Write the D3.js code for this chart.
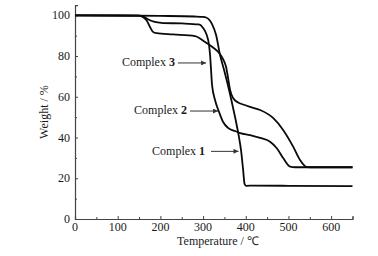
<!DOCTYPE html>
<html><head><meta charset="utf-8">
<script src="https://cdn.jsdelivr.net/npm/d3@7"></script>
<style>body{margin:0;background:#fff}svg{display:block}</style>
</head><body>
<script>
// Temperature (°C) and weight (%)
const complex1T = [0, 100, 200, 280, 300, 307, 321, 330.5, 339.8, 349.2, 360.9, 370.3, 377.3, 384.4, 389.1, 393.8, 397.2, 400.8, 420, 500, 650];
const complex1W = [100, 99.9, 99.7, 99.4, 99.2, 98.9, 95.7, 90.3, 80.5, 73.1, 63.3, 54.5, 47.6, 39.8, 33.4, 24.1, 17.2, 16.3, 16.4, 16.3, 16.1];

const complex2T = [0, 150, 160, 168, 175, 182, 191, 230, 281, 304.7, 323.4, 337.5, 346.8, 353.9, 358.6, 363.3, 370.3, 382, 393.7, 410, 433.6, 464, 487.5, 511, 527, 543, 560, 650];
const complex2W = [100, 99.8, 99, 97.5, 94.5, 92, 91.2, 90.6, 89.8, 86.9, 84.2, 81.5, 78.5, 74.6, 69.2, 63.3, 59.4, 57.2, 56.2, 55, 53.5, 49.6, 43.7, 35.5, 29, 25.5, 25.4, 25.4];

const complex3T = [0, 150, 160, 170, 180, 190, 207, 250, 290, 300, 308.6, 314, 316.4, 318.7, 321, 328, 337.5, 347, 358.6, 375, 387, 410, 433.6, 457, 472.7, 487.5, 504, 515.6, 650];
const complex3W = [100, 99.8, 99.3, 98.2, 97.2, 96.6, 96.2, 96, 95.5, 93.8, 90.3, 85.4, 80.5, 73.1, 65.8, 58.4, 52.5, 47.6, 44.7, 43.2, 42.2, 41.2, 39.8, 37.9, 34.7, 29.9, 25.7, 25.4, 25.4];

const xTicks = [0, 100, 200, 300, 400, 500, 600];
const yTicks = [0, 20, 40, 60, 80, 100];

// annotations in data units: label end (T, W) and arrow from/to T at W
const labelNames = ["Complex ", "Complex ", "Complex "];
const labelNums = ["1", "2", "3"];
const labelEndT = [304.7, 262.5, 234];
const labelBaseW = [31.4, 51.5, 75.1];
const arrowFromT = [318.7, 269.5, 241];
const arrowToT = [383, 335, 307];
const arrowW = [33.2, 53, 76.6];

const W = 378, H = 256;
const svg = d3.select("body").append("svg").attr("width", W).attr("height", H);
const x = d3.scaleLinear().domain([0, 650]).range([75, 352.5]);
const y = d3.scaleLinear().domain([0, 105]).range([219, 5.1]);

const font = "'Liberation Serif','Times New Roman',serif";
const axisColor = "#444";

// axes (ticks inward)
const xAxis = d3.axisBottom(x).tickValues(d3.range(0, 651, 50)).tickSize(-3).tickFormat("");
const gx = svg.append("g").attr("transform", `translate(0,${y(0)})`).call(xAxis);
const yAxis = d3.axisLeft(y).tickValues(d3.range(0, 101, 10)).tickSize(-3).tickFormat("");
const gy = svg.append("g").attr("transform", `translate(${x(0)},0)`).call(yAxis);
[gx, gy].forEach(g => {
  g.select(".domain").attr("stroke", axisColor).attr("stroke-width", 1.2);
  g.selectAll(".tick line").attr("stroke", axisColor).attr("stroke-width", 1);
});
gx.selectAll(".tick").filter(d => d % 100 !== 0).select("line").attr("y2", -2);
gy.selectAll(".tick").filter(d => d % 20 !== 0).select("line").attr("x2", 2);

svg.append("g").selectAll("text").data(xTicks).join("text")
  .attr("x", d => x(d)).attr("y", y(0) + 12)
  .attr("text-anchor", "middle").attr("font-family", font).attr("font-size", 12).attr("fill", "#1a1a1a")
  .text(d => d);
svg.append("g").selectAll("text").data(yTicks).join("text")
  .attr("x", x(0) - 5).attr("y", d => y(d) + 4)
  .attr("text-anchor", "end").attr("font-family", font).attr("font-size", 12).attr("fill", "#1a1a1a")
  .text(d => d);

svg.append("text").attr("x", 218).attr("y", 245).attr("text-anchor", "middle")
  .attr("font-family", font).attr("font-size", 12).attr("fill", "#1a1a1a").text("Temperature / ℃");
svg.append("text").attr("transform", `translate(48,${(y(0) + y(105)) / 2}) rotate(-90)`)
  .attr("text-anchor", "middle").attr("font-family", font).attr("font-size", 12).attr("fill", "#1a1a1a").text("Weight / %");

// curves
const series = [[complex1T, complex1W], [complex2T, complex2W], [complex3T, complex3W]];
const line = d3.line().x(d => x(d[0])).y(d => y(d[1])).curve(d3.curveMonotoneX);
svg.append("g").selectAll("path").data(series).join("path")
  .attr("d", s => line(s[0].map((t, i) => [t, s[1][i]])))
  .attr("fill", "none").attr("stroke", "#0a0a0a").attr("stroke-width", 1.8).attr("stroke-linejoin", "round");

// annotations
const defs = svg.append("defs");
defs.append("marker").attr("id", "ah").attr("viewBox", "0 0 10 10").attr("refX", 10).attr("refY", 5)
  .attr("markerWidth", 6).attr("markerHeight", 5).attr("markerUnits", "userSpaceOnUse").attr("orient", "auto")
  .append("path").attr("d", "M0,0L10,5L0,10z").attr("fill", "#333");
const ann = svg.append("g");
labelNames.forEach((nm, i) => {
  const t = ann.append("text").attr("x", x(labelEndT[i])).attr("y", y(labelBaseW[i]))
    .attr("text-anchor", "end").attr("font-family", font).attr("font-size", 12).attr("fill", "#1a1a1a");
  t.append("tspan").text(nm);
  t.append("tspan").attr("font-weight", "bold").text(labelNums[i]);
  ann.append("line").attr("x1", x(arrowFromT[i])).attr("x2", x(arrowToT[i]))
    .attr("y1", y(arrowW[i])).attr("y2", y(arrowW[i]))
    .attr("stroke", "#333").attr("stroke-width", 1).attr("marker-end", "url(#ah)");
});
</script>
</body></html>
